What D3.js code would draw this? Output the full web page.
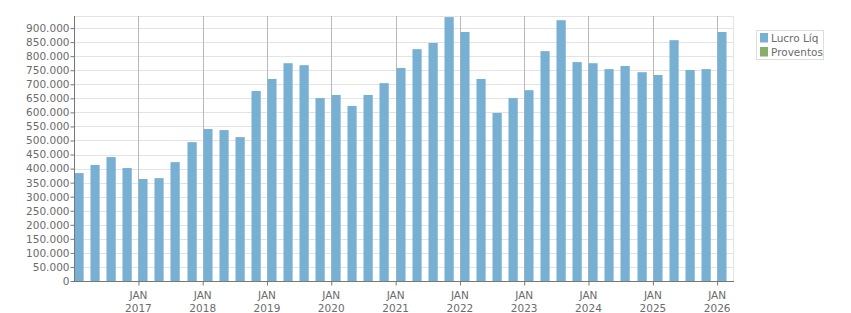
<!DOCTYPE html>
<html><head><meta charset="utf-8">
<script src="https://cdn.jsdelivr.net/npm/d3@7"></script>
<style>body{margin:0;background:#fff}svg{display:block}text{font-family:"DejaVu Sans",sans-serif}</style>
</head><body>
<svg id="c" width="851" height="313"></svg>
<script>
// Quarterly periods (start dates) Q1 2016 .. Q1 2026
const periods = ["2016-01","2016-04","2016-07","2016-10","2017-01","2017-04","2017-07","2017-10",
"2018-01","2018-04","2018-07","2018-10","2019-01","2019-04","2019-07","2019-10",
"2020-01","2020-04","2020-07","2020-10","2021-01","2021-04","2021-07","2021-10",
"2022-01","2022-04","2022-07","2022-10","2023-01","2023-04","2023-07","2023-10",
"2024-01","2024-04","2024-07","2024-10","2025-01","2025-04","2025-07","2025-10","2026-01"];
const lucroLiq = [384000,413000,441000,402000,363000,366000,423000,494000,
541000,537000,512000,676000,719000,775000,768000,651000,
662000,623000,662000,704000,758000,825000,847000,939000,
886000,719000,598000,651000,679000,818000,928000,779000,
775000,754000,765000,743000,733000,857000,751000,754000,886000];
const proventos = [];
const yTicks = d3.range(0, 900001, 50000);
const xTickYears = [2017,2018,2019,2020,2021,2022,2023,2024,2025,2026];
const seriesNames = ["Lucro Líq","Proventos"];
const seriesColors = ["#77b0d3","#87ae6b"];

const svg = d3.select("#c");
const L = 74, R = 733, T = 16, B = 281;
const parse = d3.timeParse("%Y-%m");
const dates = periods.map(parse);
const x = d3.scaleTime().domain([new Date(2016,0,1), new Date(2026,3,1)]).range([L, R]);
const y = d3.scaleLinear().domain([0, 943000]).range([B, T]);
const loc = d3.formatLocale({decimal:",", thousands:".", grouping:[3], currency:["R$",""]});
const fmt = loc.format(",d");

// horizontal grid
svg.append("g").selectAll("line").data(yTicks.filter(d=>d>0)).join("line")
  .attr("x1", L).attr("x2", R).attr("y1", d=>Math.round(y(d))+0.5).attr("y2", d=>Math.round(y(d))+0.5)
  .attr("stroke", "#e3e3e3").attr("stroke-width", 1);
// frame top & right
svg.append("line").attr("x1", L).attr("x2", R+0.5).attr("y1", T+0.5).attr("y2", T+0.5).attr("stroke","#e3e3e3");
svg.append("line").attr("x1", R+0.5).attr("x2", R+0.5).attr("y1", T).attr("y2", B).attr("stroke","#e3e3e3");
// vertical year grid
svg.append("g").selectAll("line").data(xTickYears).join("line")
  .attr("x1", d=>Math.round(x(new Date(d,0,1)))+0.5).attr("x2", d=>Math.round(x(new Date(d,0,1)))+0.5)
  .attr("y1", T).attr("y2", B).attr("stroke", "#b8b8b8");

// bars
svg.append("g").selectAll("rect").data(lucroLiq).join("rect")
  .attr("x", (d,i)=>Math.round(x(dates[i]))+0.5)
  .attr("width", (d,i)=>{const n=d3.timeMonth.offset(dates[i],3); return (x(n)-x(dates[i]))*0.57;})
  .attr("y", d=>y(d)).attr("height", d=>B-y(d))
  .attr("fill", seriesColors[0]);

// y axis
const yAxis = svg.append("g").attr("transform", `translate(${L+0.5},0)`)
  .call(d3.axisLeft(y).tickValues(yTicks).tickFormat(fmt).tickSize(4).tickSizeOuter(0));
yAxis.select(".domain").attr("stroke","#777").attr("d", `M0,${T}V${B}`);
yAxis.selectAll(".tick line").attr("stroke","#777");
yAxis.selectAll(".tick text").attr("fill","#6b6b6b").attr("font-size","10.5px").attr("x",-5).style("font-family","DejaVu Sans");

// x axis
const xAxis = svg.append("g").attr("transform", `translate(0,${B+0.5})`)
  .call(d3.axisBottom(x).tickValues(xTickYears.map(d=>new Date(d,0,1))).tickFormat("").tickSize(4).tickSizeOuter(0));
xAxis.select(".domain").attr("stroke","#777").attr("d", `M${L},0H${R+1}`);
xAxis.selectAll(".tick line").attr("stroke","#777");
const lbl = svg.append("g").selectAll("g").data(xTickYears).join("g")
  .attr("transform", d=>`translate(${x(new Date(d,0,1))},0)`);
lbl.append("text").attr("y", 299).attr("text-anchor","middle").attr("font-size","10.5px").attr("fill","#6b6b6b").text("JAN");
lbl.append("text").attr("y", 312).attr("text-anchor","middle").attr("font-size","10.5px").attr("fill","#6b6b6b").text(d=>d);

// legend
const lg = svg.append("g");
lg.append("rect").attr("x", 756.5).attr("y", 30.5).attr("width", 67).attr("height", 29)
  .attr("fill","#fff").attr("stroke","#dddddd");
const items = lg.selectAll("g").data(seriesNames).join("g")
  .attr("transform", (d,i)=>`translate(760,${33+i*14})`);
items.append("rect").attr("width", 8).attr("height", 9.5).attr("fill", (d,i)=>seriesColors[i]);
items.append("text").attr("x", 11).attr("y", 9).attr("font-size","10.5px").attr("fill","#6b6b6b").text(d=>d);
</script>
</body></html>
